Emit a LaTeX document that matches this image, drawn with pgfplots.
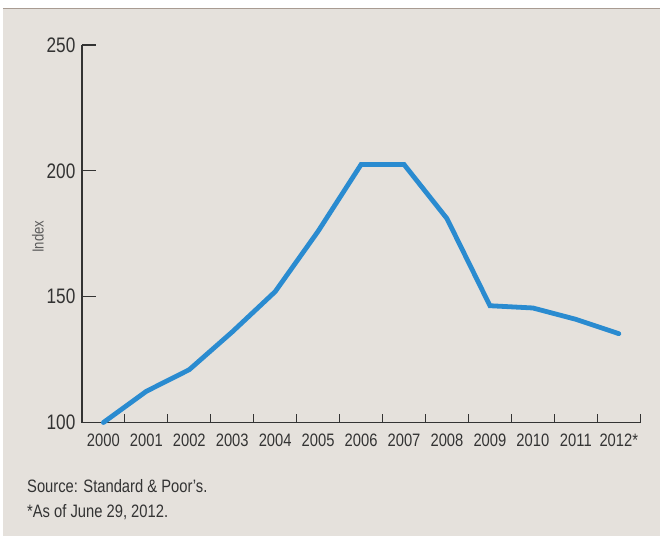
\documentclass[border=0pt]{standalone}
\usepackage{pgfplots}
\pgfplotsset{compat=1.18}
\usepackage{fontspec}
\setmainfont{Liberation Sans}[FakeStretch=0.82]
\definecolor{bg}{HTML}{E5E1DC}
\definecolor{topline}{HTML}{A89B92}
\definecolor{txt}{HTML}{333333}
\definecolor{serie}{HTML}{2A8BD0}
\pgfplotstableread{
x y
0 100
1 112.4
2 121
3 136
4 152
5 176
6 202.5
7 202.5
8 181
9 146.4
10 145.5
11 141
12 135.3
}\idx
\begin{document}
\begin{tikzpicture}
\fill[white] (0pt,0pt) rectangle (661pt,537pt);
\fill[bg] (3pt,0pt) rectangle (661pt,528pt);
\draw[topline, line width=1.5pt] (3pt,528.5pt) -- (661pt,528.5pt);
\begin{axis}[
  at={(82pt,114pt)}, anchor=south west,
  scale only axis, width=559pt, height=378pt,
  xmin=-0.5, xmax=12.5, ymin=100, ymax=250,
  axis x line*=bottom, axis y line*=left,
  axis line style={txt, line width=1.2pt},
  every tick/.style={txt, line width=1.2pt},
  tick align=inside,
  xtick={-0.5,0.5,...,12.5},
  x tick label as interval,
  xticklabels={2000,2001,2002,2003,2004,2005,2006,2007,2008,2009,2010,2011,2012*},
  ytick={100,150,200,250},
  yticklabels={100,150,200,250},
  x tick style={/pgfplots/major tick length=9pt},
  y tick style={/pgfplots/major tick length=14pt},
  xticklabel style={font=\fontsize{18}{18}\selectfont, text=txt, anchor=base, yshift=-24pt},
  yticklabel style={font=\fontsize{21}{21}\selectfont, text=txt, xshift=-3pt},
  clip=false,
]
\addplot[serie, line width=4.8pt, line join=miter, line cap=round] table[x=x,y=y] {\idx};
\end{axis}
\node[rotate=90, text=txt!80, font=\fontsize{16}{16}\selectfont] at (38pt,300pt) {Index};
\node[anchor=base west, inner sep=0, text=txt, font=\fontsize{18}{18}\selectfont] at (27pt,44pt) {Source: Standard \& Poor’s.};
\node[anchor=base west, inner sep=0, text=txt, font=\fontsize{18}{18}\selectfont] at (27pt,19pt) {*As of June 29, 2012.};
\end{tikzpicture}
\end{document}
